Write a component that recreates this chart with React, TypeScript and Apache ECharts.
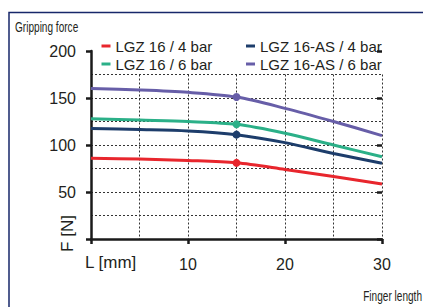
import React, { useEffect, useRef } from "react";
import * as echarts from "echarts";

const xValues = [0, 5, 10, 15, 20, 25, 30];
const seriesNames = ["LGZ 16 / 4 bar", "LGZ 16 / 6 bar", "LGZ 16-AS / 4 bar", "LGZ 16-AS / 6 bar"];
const lgz16_4bar = [86, 85, 83.5, 81, 74, 66.5, 58.5];
const lgz16_6bar = [128, 126.5, 125, 122, 112.5, 100, 87.5];
const lgz16as_4bar = [117.5, 116.5, 115, 111, 102.5, 91, 80.5];
const lgz16as_6bar = [160, 158.5, 156, 151, 139, 125, 110];
const markedX = 15;
const seriesColors = ["#e8262d", "#2bb088", "#1d3d6b", "#675ea8"];

const titleText = "Gripping force, outer gripping";
const yTitle = "Gripping force";
const xTitle = "Finger length";
const yUnit = "F [N]";
const xUnit = "L [mm]";

const NAVY = "#17276a";
const TXT = "#231f20";

export default function App() {
  const ref = useRef<HTMLDivElement>(null);
  useEffect(() => {
    if (!ref.current) return;
    const chart = echarts.init(ref.current, undefined, { renderer: "svg" });
    const allData = [lgz16_4bar, lgz16_6bar, lgz16as_4bar, lgz16as_6bar];
    const fontMain = "'Liberation Sans', Arial, sans-serif";
    const series = allData.map((d, i) => ({
      name: seriesNames[i],
      type: "line",
      xAxisIndex: 0,
      yAxisIndex: 0,
      smooth: 0.3,
      lineStyle: { color: seriesColors[i], width: 3 },
      itemStyle: { color: seriesColors[i] },
      symbolSize: 8,
      z: 5,
      data: d.map((v, j) => ({
        value: [xValues[j], v],
        symbol: xValues[j] === markedX ? "circle" : "none",
      })),
    }));
    const gridLine = { show: true, lineStyle: { color: "#333", type: [2, 2], width: 1 } };
    const legendText = { fontSize: 15, fontFamily: fontMain, color: TXT, lineHeight: 15 };
    chart.setOption({
      animation: false,
      grid: [
        { left: 91, right: 41, top: 51, bottom: 68 },
        { left: 91, right: 41, top: 74.5, bottom: 68 },
      ],
      legend: [
        {
          data: [seriesNames[0], seriesNames[1]],
          orient: "vertical",
          left: 101.5,
          top: 38.5,
          itemWidth: 9,
          itemHeight: 3,
          itemGap: 3,
          icon: "rect",
          padding: 0,
          textStyle: legendText,
        },
        {
          data: [seriesNames[2], seriesNames[3]],
          orient: "vertical",
          left: 246,
          top: 38.5,
          itemWidth: 9,
          itemHeight: 3,
          itemGap: 3,
          icon: "rect",
          padding: 0,
          textStyle: legendText,
        },
      ],
      xAxis: [
        {
          type: "value",
          gridIndex: 0,
          min: 0,
          max: 30,
          interval: 10,
          axisLine: { show: true, lineStyle: { color: "#1a1a1a", width: 2.5 } },
          axisTick: { show: true, length: 5, lineStyle: { color: "#1a1a1a", width: 2.5 } },
          axisLabel: {
            margin: 17,
            fontSize: 16,
            fontFamily: fontMain,
            color: TXT,
            formatter: (v: number) => (v === 0 ? "" : String(v)),
          },
          splitLine: { show: false },
          z: 4,
        },
        {
          type: "value",
          gridIndex: 1,
          min: 0,
          max: 30,
          interval: 5,
          axisLine: { show: false },
          axisTick: { show: false },
          axisLabel: { show: false },
          splitLine: gridLine,
        },
      ],
      yAxis: [
        {
          type: "value",
          gridIndex: 0,
          min: 0,
          max: 200,
          interval: 50,
          axisLine: { show: true, lineStyle: { color: "#1a1a1a", width: 2.5 } },
          axisTick: { show: true, length: 5, lineStyle: { color: "#1a1a1a", width: 2.5 } },
          axisLabel: {
            margin: 15,
            fontSize: 16,
            fontFamily: fontMain,
            color: TXT,
            formatter: (v: number) => (v === 0 ? "" : String(v)),
          },
          splitLine: { show: false },
          z: 4,
        },
        {
          type: "value",
          gridIndex: 0,
          min: 0,
          max: 200,
          interval: 50,
          axisLine: { show: false },
          axisTick: { show: true, inside: true, length: 5, lineStyle: { color: "#1a1a1a", width: 2.5 } },
          axisLabel: { show: false },
          splitLine: { show: false },
          z: 4,
        },
        {
          type: "value",
          gridIndex: 1,
          min: 0,
          max: 175,
          interval: 25,
          axisLine: { show: false },
          axisTick: { show: false },
          axisLabel: { show: false },
          splitLine: gridLine,
        },
      ],
      graphic: [
        {
          type: "rect",
          shape: { x: 9, y: 12.5, width: 600, height: 500 },
          style: { fill: "none", stroke: NAVY, lineWidth: 1.5 },
          silent: true,
          z: 0,
        },
        {
          type: "text",
          x: 9,
          y: -16,
          style: {
            text: titleText,
            fontSize: 28,
            fontWeight: "bold",
            fontFamily: fontMain,
            fill: NAVY,
            verticalAlign: "middle",
          },
        },
        {
          type: "text",
          x: 15,
          y: 27,
          scaleX: 0.72,
          style: {
            text: yTitle,
            fontSize: 14,
            fontFamily: fontMain,
            fill: TXT,
            verticalAlign: "middle",
          },
        },
        {
          type: "text",
          x: 422,
          y: 296,
          scaleX: 0.72,
          style: {
            text: xTitle,
            fontSize: 14,
            fontFamily: fontMain,
            fill: TXT,
            align: "right",
            verticalAlign: "middle",
          },
        },
        {
          type: "text",
          x: 85,
          y: 262,
          style: {
            text: xUnit,
            fontSize: 17,
            fontFamily: fontMain,
            fill: TXT,
            verticalAlign: "middle",
          },
        },
        {
          type: "text",
          x: 67,
          y: 233.5,
          rotation: Math.PI / 2,
          style: {
            text: yUnit,
            fontSize: 17,
            fontFamily: fontMain,
            fill: TXT,
            align: "center",
            verticalAlign: "middle",
          },
        },
      ],
      series,
    });
    return () => chart.dispose();
  }, []);
  return (
    <div
      ref={ref}
      style={{ position: "fixed", left: 0, top: 0, width: 423, height: 307, background: "#fff" }}
    />
  );
}
